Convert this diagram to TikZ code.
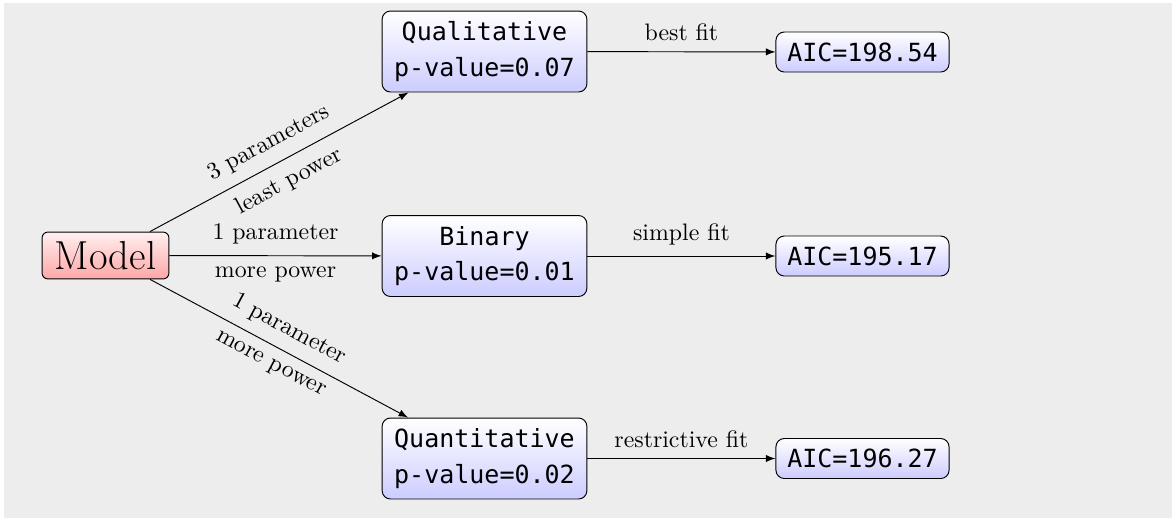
\documentclass[tikz,border=0pt]{standalone}
\usepackage{fontspec}
\setmonofont{DejaVu Sans Mono}
\begin{document}
\begin{tikzpicture}[
    x=0.42pt, y=-0.42pt, >=latex,
    model/.style={rectangle, draw, rounded corners=2.5pt, top color=red!6, bottom color=red!35, font=\fontsize{17}{20}\selectfont, inner sep=1pt, minimum width=53.3pt, minimum height=19.7pt},
    test/.style={rectangle, draw, rounded corners=3.5pt, top color=white, bottom color=blue!20, font=\ttfamily\fontsize{10.5}{15}\selectfont, align=center, inner sep=1pt, minimum width=86pt, minimum height=34pt},
    result/.style={rectangle, draw, rounded corners=3.5pt, top color=white, bottom color=blue!20, font=\ttfamily\fontsize{10.5}{13}\selectfont, inner sep=1pt, minimum width=72.7pt, minimum height=16.8pt},
    arrow/.style={->},
    label/.style={font=\normalsize, midway, inner sep=4.5pt}
]
\useasboundingbox (0,0) rectangle (1172,518);
\fill[black!7] (4,3) rectangle (1172,518);

% model and the three tests
\node[model] (model) at (105.5, 255.5) {Model};
\node[test] (qual) at (484.5, 51.5) {Qualitative\\p-value=0.07};
\node[test] (bin) at (484.5, 256) {Binary\\p-value=0.01};
\node[test] (quant) at (484.5, 458.5) {Quantitative\\p-value=0.02};

% fit results
\node[result] (aicqual) at (862.5, 52) {AIC=198.54};
\node[result] (aicbin) at (862.5, 256) {AIC=195.17};
\node[result] (aicquant) at (862.5, 458.5) {AIC=196.27};

% arrows from the model
\draw[arrow] (model) -- node[label, sloped, above] {3 parameters} node[label, sloped, below] {least power} (qual);
\draw[arrow] (model) -- node[label, above] {1 parameter} node[label, below] {more power} (bin);
\draw[arrow] (model) -- node[label, sloped, above] {1 parameter} node[label, sloped, below] {more power} (quant);

% arrows to the results
\draw[arrow] (qual) -- node[label, above] {best fit} (aicqual);
\draw[arrow] (bin) -- node[label, above] {simple fit} (aicbin);
\draw[arrow] (quant) -- node[label, above] {restrictive fit} (aicquant);

\end{tikzpicture}
\end{document}
